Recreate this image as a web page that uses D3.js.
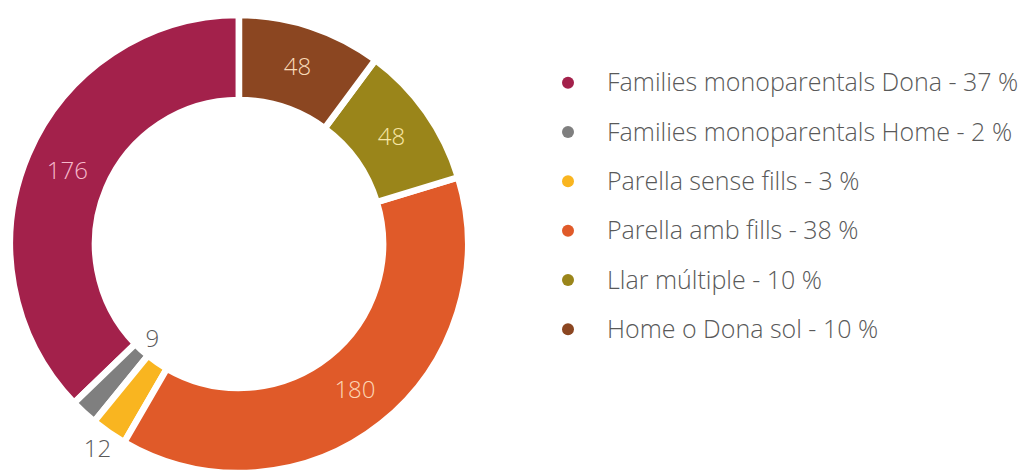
<!DOCTYPE html>
<html>
<head>
<meta charset="utf-8">
<script src="https://cdn.jsdelivr.net/npm/d3@7"></script>
<style>
    body { margin: 0; background: #fff; }
    svg text { font-family: "Open Sans", sans-serif; font-weight: 300; }
</style>
</head>
<body>
<div id="chart"></div>
<script>
const categories = [
    "Families monoparentals Dona",
    "Families monoparentals Home",
    "Parella sense fills",
    "Parella amb fills",
    "Llar múltiple",
    "Home o Dona sol"
];
const values = [176, 9, 12, 180, 48, 48];
const colors = ["#a3214b", "#7f7f7f", "#f9b520", "#e05a29", "#9a851a", "#8b4621"];
const labelColors = ["#f6b9cc", "#595959", "#595959", "#fcd5b4", "#f8e7a6", "#f9dbb8"];

const width = 1027, height = 470;
const cx = 239, cy = 244, outerR = 229, innerR = 144;

const svg = d3.select("#chart").append("svg")
    .attr("width", width)
    .attr("height", height);

const data = categories.map((c, i) => ({key: c, value: values[i], i}));
const total = d3.sum(values);

// slices run counter-clockwise from the top in legend order
const pie = d3.pie()
    .sort(null)
    .value(d => d.value)
    .startAngle(0)
    .endAngle(-2 * Math.PI);

const arc = d3.arc().innerRadius(innerR).outerRadius(outerR);

const g = svg.append("g").attr("transform", "translate(" + cx + "," + cy + ")");
const arcs = pie(data);

g.selectAll("path")
    .data(arcs)
    .enter().append("path")
    .attr("d", arc)
    .style("fill", d => colors[d.data.i])
    .style("stroke", "#fff")
    .style("stroke-width", 6.5)
    .style("stroke-linejoin", "miter");

function labelPos(d) {
    const a = (d.startAngle + d.endAngle) / 2;
    let r;
    if (d.data.value < 10) r = 128;        // small slice: label in the hole
    else if (d.data.value < 40) r = 249;   // small slice: label outside
    else return arc.centroid(d);
    return [Math.sin(a) * r, -Math.cos(a) * r];
}

g.selectAll("text.val")
    .data(arcs)
    .enter().append("text")
    .attr("class", "val")
    .attr("x", d => labelPos(d)[0])
    .attr("y", d => labelPos(d)[1])
    .attr("text-anchor", "middle")
    .attr("dy", "0.35em")
    .style("font-size", "24px")
    .style("fill", d => labelColors[d.data.i])
    .text(d => d.data.value);

//Legend
const legendY = d3.scaleBand()
    .domain(categories)
    .range([58, 354]);

const legend = svg.selectAll(".legend")
    .data(data)
    .enter().append("g")
    .attr("class", "legend")
    .attr("transform", d => "translate(568," + (legendY(d.key) + legendY.bandwidth() / 2) + ")");

legend.append("circle")
    .attr("r", 6)
    .style("fill", d => colors[d.i]);

legend.append("text")
    .attr("x", 39)
    .attr("dy", "0.35em")
    .style("font-size", "25px")
    .style("fill", "#595959")
    .text(d => d.key + " - " + Math.round(d.value / total * 100) + " %");
</script>
</body>
</html>
